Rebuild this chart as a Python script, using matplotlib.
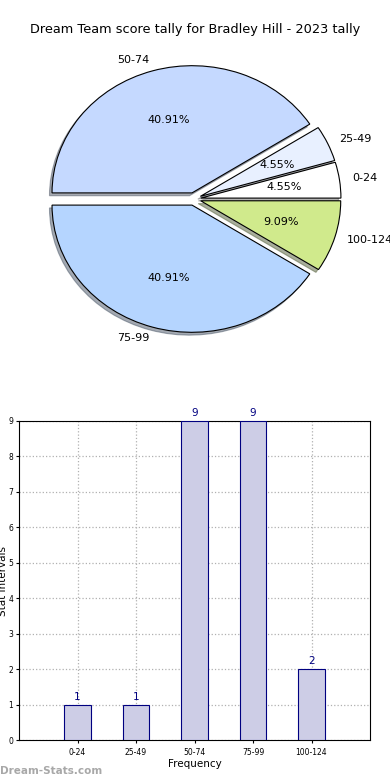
import matplotlib
matplotlib.use("Agg")
import matplotlib.pyplot as plt

categories = ["0-24", "25-49", "50-74", "75-99", "100-124"]
counts = [1, 1, 9, 9, 2]
pie_colors = ["#ffffff", "#e8f0ff", "#c5d9ff", "#b5d5ff", "#d0ea8c"]
title = "Dream Team score tally for Bradley Hill - 2023 tally"

fig = plt.figure(figsize=(3.9, 7.8), dpi=100)

W, H = 390.0, 780.0
# pie axes
axp = fig.add_axes([19 / W, 1 - 358 / H, 350 / W, 318 / H])
wedges, texts, autotexts = axp.pie(
    counts, labels=categories, colors=pie_colors, explode=[0.05] * 5,
    autopct="%.2f%%", shadow=dict(ox=-0.013, oy=-0.016, shade=0.6), startangle=0,
    wedgeprops=dict(edgecolor="black", linewidth=0.8),
    textprops=dict(fontsize=8), labeldistance=1.09)
axp.set_aspect("auto")
axp.set_xlim(-1.25, 1.25)
axp.set_ylim(-1.25, 1.25)
fig.text(0.5, 1 - 30 / H, title, ha="center", va="center", fontsize=9.3)

# bar axes
axb = fig.add_axes([19 / W, 1 - 740 / H, 351 / W, 319 / H])
x = list(range(len(categories)))
bars = axb.bar(x, counts, width=0.45, color="#cdcde6", edgecolor="navy", linewidth=0.8, zorder=3)
for xi, c in zip(x, counts):
    axb.text(xi, c + 0.08, str(c), ha="center", va="bottom", color="navy", fontsize=7.5)
axb.set_xlim(-1, 5)
axb.set_ylim(0, 9)
axb.set_xticks(x)
axb.set_xticklabels(categories, fontsize=5.5)
axb.set_yticks(range(10))
axb.tick_params(axis="y", labelsize=5.5, length=2, pad=2)
axb.tick_params(axis="x", length=2)
axb.grid(True, linestyle=":", color="#b0b0b0", linewidth=0.9, zorder=0)
axb.set_axisbelow(True)
axb.set_xlabel("Frequency", fontsize=7.5, labelpad=2)
axb.set_ylabel("Stat intervals", fontsize=7.5)
axb.yaxis.set_label_coords(-0.032, 0.5)

fig.text(0.0, 1 - 771 / H, "Dream-Stats.com", ha="left", va="center",
         fontsize=7.5, color="#a8a8a8", fontweight="bold")

fig.savefig("out.png", dpi=100)
